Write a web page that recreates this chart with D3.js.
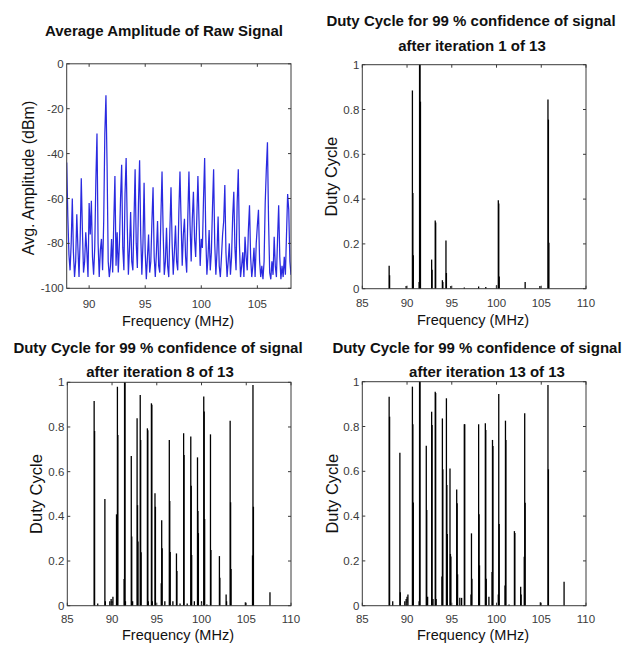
<!DOCTYPE html>
<html><head><meta charset="utf-8">
<script src="https://cdn.jsdelivr.net/npm/d3@7"></script>
<style>
html,body{margin:0;padding:0;background:#fff;}
svg{display:block;}
text{font-family:"Liberation Sans",Arial,Helvetica,sans-serif;}
</style></head>
<body>
<script>
// ---------- DATA ----------
// Panel 1: average amplitude of raw signal, sampled every 0.1 MHz from 88.0 to 108.0 MHz
const rawStartMHz = 88.0;
const rawStepMHz = 0.1;
const rawAmp = [
 -44,-68,-85,-92,-80,-60,-84,-95,-88,-67,   // 88.0 - 88.9
 -82,-95,-78,-51,-74,-93,-88,-75,-84,-95,   // 89.0 - 89.9
 -62,-76,-61,-86,-94,-82,-52,-31,-80,-95,   // 90.0 - 90.9
 -83,-78,-92,-70,-31,-14,-45,-88,-95,-90,   // 91.0 - 91.9
 -78,-93,-70,-50,-90,-75,-93,-80,-60,-45,   // 92.0 - 92.9
 -82,-92,-58,-42,-72,-94,-82,-66,-88,-92,   // 93.0 - 93.9
 -70,-47,-80,-91,-62,-43,-76,-94,-80,-53,   // 94.0 - 94.9
 -84,-96,-86,-76,-93,-88,-70,-55,-86,-95,   // 95.0 - 95.9
 -84,-70,-90,-93,-68,-48,-75,-94,-88,-73,   // 96.0 - 96.9
 -90,-95,-74,-55,-80,-94,-84,-72,-88,-92,   // 97.0 - 97.9
 -66,-48,-70,-90,-76,-69,-86,-93,-68,-48,   // 98.0 - 98.9
 -72,-88,-69,-57,-78,-86,-69,-50,-70,-90,   // 99.0 - 99.9
 -78,-82,-60,-42,-76,-94,-86,-74,-92,-84,   // 100.0 - 100.9
 -64,-47,-80,-94,-84,-68,-90,-95,-86,-76,   // 101.0 - 101.9
 -70,-54,-84,-95,-88,-80,-94,-86,-68,-57,   // 102.0 - 102.9
 -82,-92,-62,-47,-80,-95,-90,-84,-95,-77,   // 103.0 - 103.9
 -86,-92,-74,-63,-86,-95,-90,-82,-95,-80,   // 104.0 - 104.9
 -72,-65,-88,-95,-90,-96,-88,-62,-47,-35,   // 105.0 - 105.9
 -70,-93,-96,-88,-94,-77,-90,-95,-78,-63,   // 106.0 - 106.9
 -86,-96,-90,-95,-86,-94,-76,-58,-65,-88,   // 107.0 - 107.9
 -94                                        // 108.0
];
const rawYTicks = [0,-20,-40,-60,-80,-100];
const rawXTicks = [90,95,100,105];

// Duty-cycle stems, iteration 1 of 13
const iter1Freq = [88.0,88.05,89.9,90.6,90.65,90.7,91.35,91.4,91.45,91.5,92.75,92.8,93.15,93.2,93.95,94.0,94.35,94.4,94.9,96.4,98.0,98.8,100.0,100.2,100.25,100.3,103.2,104.85,105.75,105.8,105.85];
const iter1Duty = [0.103,0.06,0.012,0.885,0.427,0.149,0.03,1.0,1.0,0.835,0.13,0.085,0.305,0.295,0.038,0.03,0.215,0.07,0.012,0.005,0.01,0.008,0.015,0.395,0.38,0.055,0.03,0.012,0.845,0.755,0.205];

// iteration 8 of 13
const iter8Freq = [88.0,88.05,88.4,89.2,89.25,89.75,89.9,90.0,90.1,90.5,90.6,90.65,91.35,91.4,91.45,91.5,92.15,92.2,92.3,92.8,92.85,92.9,93.15,93.2,93.25,93.95,94.0,94.05,94.4,94.45,94.5,94.8,94.85,95.5,95.55,95.6,95.9,96.4,96.45,96.5,96.8,97.2,97.25,97.6,98.0,98.05,98.4,98.8,98.85,98.9,99.2,99.55,99.6,99.65,100.0,100.25,100.3,100.35,100.6,101.0,101.05,102.0,102.05,102.75,102.8,103.2,103.25,103.3,104.9,105.7,105.75,105.8,107.65];
const iter8Duty = [0.916,0.782,0.01,0.478,0.02,0.02,0.03,0.02,0.04,0.409,0.98,0.764,0.12,1.0,1.0,0.02,0.67,0.31,0.02,0.839,0.45,0.287,0.943,0.742,0.239,0.794,0.785,0.02,0.906,0.9,0.02,0.503,0.443,0.1,0.382,0.257,0.02,0.742,0.469,0.24,0.02,0.234,0.155,0.01,0.772,0.675,0.01,0.757,0.537,0.227,0.02,0.664,0.424,0.325,0.02,0.936,0.869,0.388,0.005,0.767,0.249,0.222,0.125,0.05,0.02,0.828,0.463,0.164,0.015,0.225,0.988,0.443,0.06];

// iteration 13 of 13
const iter13Freq = [88.0,88.05,88.4,89.2,89.25,89.75,89.9,90.0,90.1,90.6,90.65,90.7,91.35,91.4,91.45,92.15,92.2,92.3,92.75,92.8,92.9,93.15,93.2,93.25,93.9,93.95,94.0,94.4,94.45,94.5,94.8,94.85,94.9,95.55,95.6,95.65,95.9,96.1,96.4,96.45,97.15,97.2,97.25,98.0,98.05,98.1,98.75,98.8,98.85,99.15,99.5,99.55,99.6,100.2,100.25,100.3,100.95,101.0,101.05,101.4,102.0,102.05,102.7,102.75,103.1,103.15,103.2,104.9,105.75,105.8,107.55];
const iter13Duty = [0.933,0.844,0.02,0.683,0.06,0.02,0.03,0.04,0.05,0.978,0.81,0.461,0.02,1.0,1.0,0.714,0.427,0.04,0.866,0.807,0.03,0.955,0.95,0.03,0.13,0.836,0.609,0.926,0.539,0.32,0.613,0.231,0.22,0.519,0.457,0.14,0.035,0.035,0.81,0.81,0.05,0.323,0.12,0.81,0.408,0.18,0.814,0.784,0.12,0.04,0.15,0.74,0.713,0.05,0.945,0.365,0.09,0.826,0.74,0.005,0.333,0.325,0.085,0.05,0.219,0.859,0.46,0.015,0.985,0.609,0.107];

const dutyXTicks = [85,90,95,100,105,110];
const dutyYTicks = [0,0.2,0.4,0.6,0.8,1];

const titleRaw = "Average Amplitude of Raw Signal";
const titleDutyLine1 = "Duty Cycle for 99 % confidence of signal";
const titleIter1 = "after iteration 1 of 13";
const titleIter8 = "after iteration 8 of 13";
const titleIter13 = "after iteration 13 of 13";

// ---------- DRAW ----------
const W = 637, H = 649;
const svg = d3.select("body").append("svg").attr("width", W).attr("height", H);
svg.append("rect").attr("width", W).attr("height", H).attr("fill", "#fff");

const frameColor = "#3a3a3a";
const tickTextColor = "#3a3a3a";

function drawFrame(box, x, y, xTicks, yTicks, yFmt, xLabelDy) {
  const g = svg.append("g");
  const tl = 3;
  xTicks.forEach(t => {
    const px = x(t);
    g.append("line").attr("x1", px).attr("x2", px).attr("y1", box.b).attr("y2", box.b - tl).attr("stroke", frameColor);
    g.append("line").attr("x1", px).attr("x2", px).attr("y1", box.t).attr("y2", box.t + tl).attr("stroke", frameColor);
    g.append("text").attr("x", px).attr("y", box.b + xLabelDy).attr("text-anchor", "middle")
      .attr("font-size", 11.5).attr("fill", tickTextColor).text(t);
  });
  yTicks.forEach(t => {
    const py = y(t);
    g.append("line").attr("x1", box.l).attr("x2", box.l + tl).attr("y1", py).attr("y2", py).attr("stroke", frameColor);
    g.append("line").attr("x1", box.r).attr("x2", box.r - tl).attr("y1", py).attr("y2", py).attr("stroke", frameColor);
    g.append("text").attr("x", box.l - 3).attr("y", py + 4).attr("text-anchor", "end")
      .attr("font-size", 11.5).attr("fill", tickTextColor).text(yFmt(t));
  });
  g.append("rect").attr("x", box.l).attr("y", box.t).attr("width", box.r - box.l).attr("height", box.b - box.t)
    .attr("fill", "none").attr("stroke", frameColor).attr("stroke-width", 1);
}

function label(x, yy, txt, size, opts = {}) {
  const t = svg.append("text").attr("x", x).attr("y", yy).attr("text-anchor", "middle")
    .attr("font-size", size).attr("fill", "#111").text(txt);
  if (opts.bold) t.attr("font-weight", "bold");
  if (opts.rotate) t.attr("transform", `rotate(-90,${x},${yy})`);
  return t;
}

// Panel 1
{
  const box = {l: 66.7, r: 291, t: 63.8, b: 288.3};
  const x = d3.scaleLinear().domain([88, 108]).range([box.l, box.r]);
  const y = d3.scaleLinear().domain([-100, 0]).range([box.b, box.t]);
  const pts = rawAmp.map((v, i) => [rawStartMHz + i * rawStepMHz, v]);
  svg.append("clipPath").attr("id", "c1").append("rect")
    .attr("x", box.l).attr("y", box.t).attr("width", box.r - box.l).attr("height", box.b - box.t);
  svg.append("path").datum(pts).attr("clip-path", "url(#c1)")
    .attr("d", d3.line().x(d => x(d[0])).y(d => y(d[1])))
    .attr("fill", "none").attr("stroke", "#2a2ae0").attr("stroke-width", 1.25).attr("stroke-linejoin", "miter");
  drawFrame(box, x, y, rawXTicks, rawYTicks, d => String(d), 20);
  label(164, 36, titleRaw, 15, {bold: true});
  label(178, 326, "Frequency (MHz)", 14.5);
  label(34, 178, "Avg. Amplitude (dBm)", 16, {rotate: true});
}

function dutyPanel(box, freqs, duties, title2, t1y, t2y, c1, c2, xlab, ylabX, xLabelDy, xlabY) {
  const x = d3.scaleLinear().domain([85, 110]).range([box.l, box.r]);
  const y = d3.scaleLinear().domain([0, 1]).range([box.b, box.t]);
  const g = svg.append("g");
  g.selectAll("line").data(freqs.map((f, i) => [f, duties[i]])).join("line")
    .attr("x1", d => x(d[0])).attr("x2", d => x(d[0]))
    .attr("y1", y(0)).attr("y2", d => y(d[1]))
    .attr("stroke", "#000").attr("stroke-width", 1.3);
  drawFrame(box, x, y, dutyXTicks, dutyYTicks, d => String(d), xLabelDy);
  label(c1, t1y, titleDutyLine1, 15, {bold: true});
  label(c2, t2y, title2, 15, {bold: true});
  label(xlab, xlabY, "Frequency (MHz)", 14.5);
  label(ylabX, (box.t + box.b) / 2, "Duty Cycle", 16.5, {rotate: true});
}

dutyPanel({l: 362.3, r: 586, t: 64.7, b: 288.7}, iter1Freq, iter1Duty, titleIter1, 25.5, 50.5, 471, 472, 473, 337, 18.5, 325);
dutyPanel({l: 67.3, r: 291, t: 382.3, b: 605.7}, iter8Freq, iter8Duty, titleIter8, 353, 377, 158, 160, 178, 42, 17, 640);
dutyPanel({l: 362.3, r: 586, t: 381.7, b: 605.7}, iter13Freq, iter13Duty, titleIter13, 353, 377, 477, 487, 473, 338, 17, 640);
</script>
</body></html>
